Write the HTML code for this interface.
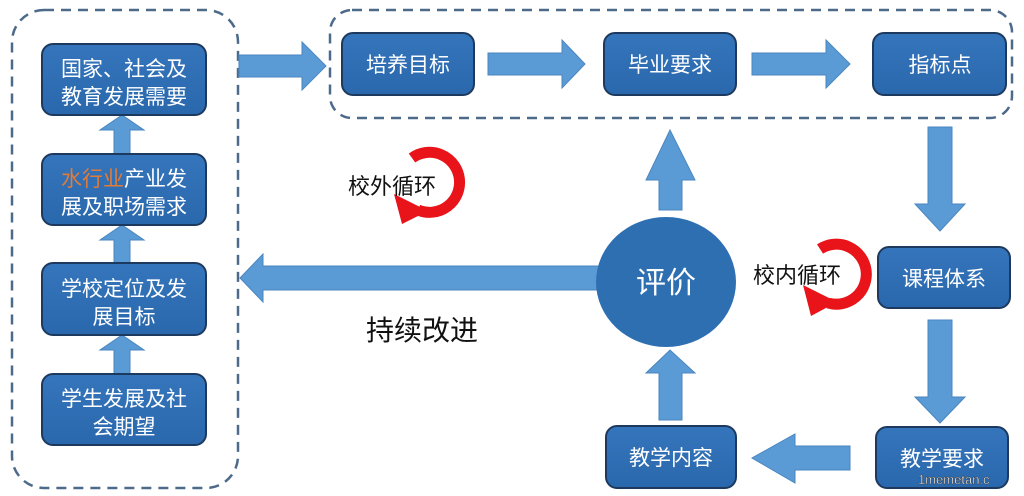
<!DOCTYPE html>
<html><head><meta charset="utf-8"><style>
html,body{margin:0;padding:0;background:#fff;}
svg{display:block;}
text{font-family:"Liberation Sans","Noto Sans CJK SC",sans-serif;}
</style></head><body>
<svg width="1024" height="496" viewBox="0 0 1024 496" xmlns="http://www.w3.org/2000/svg">
<defs>
<linearGradient id="g" x1="0" y1="0" x2="0" y2="1"><stop offset="0" stop-color="#3575bb"/><stop offset="1" stop-color="#2a68ad"/></linearGradient>
</defs>
<rect x="12" y="10" width="226" height="478" rx="32" fill="none" stroke="#4d6a8a" stroke-width="2.5" stroke-dasharray="10,7"/>
<rect x="330" y="10" width="682" height="108" rx="22" fill="none" stroke="#4d6a8a" stroke-width="2.5" stroke-dasharray="10,7"/>

<g fill="#5b9bd5" stroke="#4a86c0" stroke-width="1">
<polygon points="114,154 114,130 100,130 122,115 144,130 130,130 130,154"/>
<polygon points="114,263 114,240 100,240 122,225 144,240 130,240 130,263"/>
<polygon points="114,374 114,350 100,350 122,335 144,350 130,350 130,374"/>
<polygon points="239,55 302,55 302,42 326,66 302,90 302,77 239,77"/>
<polygon points="488,53 562,53 562,40 585,64 562,88 562,75 488,75"/>
<polygon points="752,53 826,53 826,40 850,64 826,88 826,75 752,75"/>
<polygon points="928,127 952,127 952,204 965,204 940,231 915,204 928,204"/>
<polygon points="928,320 952,320 952,397 965,397 940,423 915,397 928,397"/>
<polygon points="850,446 795,446 795,434 752,458 795,483 795,470 850,470"/>
<polygon points="659,420 682,420 682,373 695,373 670,350 646,373 659,373"/>
<polygon points="659,210 682,210 682,180 695,180 670,130 646,180 659,180"/>
<polygon points="605,266 263,266 263,254 240,278 263,302 263,290 605,290"/>
</g>

<g fill="url(#g)" stroke="#1d3a5e" stroke-width="2">
<rect x="42" y="44" width="164" height="71" rx="11"/>
<rect x="42" y="154" width="164" height="71" rx="11"/>
<rect x="42" y="263" width="164" height="72" rx="11"/>
<rect x="42" y="374" width="164" height="71" rx="11"/>
<rect x="342" y="33" width="132" height="62" rx="11"/>
<rect x="604" y="33" width="132" height="62" rx="11"/>
<rect x="873" y="33" width="133" height="62" rx="11"/>
<rect x="878" y="247" width="132" height="61" rx="11"/>
<rect x="876" y="427" width="132" height="61" rx="11"/>
<rect x="606" y="426" width="130" height="62" rx="11"/>
</g>
<ellipse cx="666" cy="282" rx="70" ry="65" fill="#2e6fb2"/>

<g fill="#fff" font-size="21" text-anchor="middle">
<text x="124" y="76">国家、社会及</text>
<text x="124" y="104">教育发展需要</text>
<text x="124" y="186"><tspan fill="#e07b39">水行业</tspan>产业发</text>
<text x="124" y="214">展及职场需求</text>
<text x="124" y="296">学校定位及发</text>
<text x="124" y="324">展目标</text>
<text x="124" y="406">学生发展及社</text>
<text x="124" y="434">会期望</text>
<text x="408" y="72">培养目标</text>
<text x="670" y="72">毕业要求</text>
<text x="940" y="72">指标点</text>
<text x="944" y="286">课程体系</text>
<text x="942" y="466">教学要求</text>
<text x="671" y="465">教学内容</text>
<text x="666" y="293" font-size="30">评价</text>
</g>

<g fill="none" stroke="#e8141a" stroke-width="11">
<path d="M412,158 A30,30 0 1 1 418,210"/>
<path d="M820,249 A30,30 0 1 1 828,303"/>
</g>
<polygon points="394,194 428,211 402,224" fill="#e8141a"/>
<polygon points="803,285 837,302 811,316" fill="#e8141a"/>

<g fill="#111" font-size="22">
<text x="348" y="194">校外循环</text>
<text x="753" y="283">校内循环</text>
<text x="366" y="340" font-size="28">持续改进</text>
</g>
<text x="918" y="484" font-size="13" fill="#fff" font-family="Liberation Mono,monospace" stroke="#333" stroke-width="0.4">1memetan.c</text>
</svg>
</body></html>
